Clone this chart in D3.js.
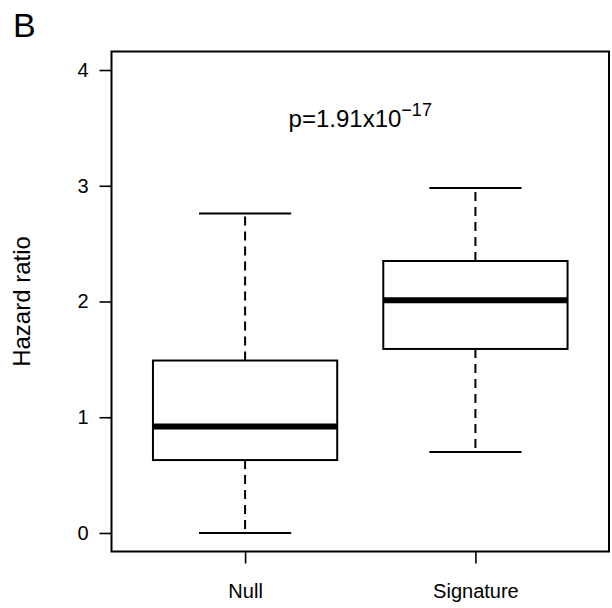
<!DOCTYPE html>
<html>
<head>
<meta charset="utf-8">
<script src="https://cdn.jsdelivr.net/npm/d3@7"></script>
<style>
  html, body { margin: 0; padding: 0; background: #fff; }
  svg { display: block; }
  text { font-family: "Liberation Sans", Arial, sans-serif; fill: #000; }
</style>
</head>
<body>
<svg id="chart" width="612" height="608"></svg>
<script>
// Box-plot summary per group
const categories = ["Null", "Signature"];
const whiskerLow = [0.00, 0.70];
const q1 = [0.63, 1.59];
const median = [0.92, 2.01];
const q3 = [1.49, 2.35];
const whiskerHigh = [2.76, 2.98];
const yTicks = [0, 1, 2, 3, 4];
const panelLabel = "B";
const yLabel = "Hazard ratio";
const pMantissa = "p=1.91x10";
const pExponent = "\u221217";

const svg = d3.select("#chart");

const plot = { left: 111.5, right: 609, top: 51.5, bottom: 551.5 };

// group positions 1..n, padded like base-R boxplot
const x = d3.scaleLinear().domain([0.42, categories.length + 0.58]).range([plot.left, plot.right]);
const y = d3.scaleLinear().domain([-0.16, 4.16]).range([plot.bottom, plot.top]);

const boxHalf = 0.4, capHalf = 0.2;

// y axis
const yAxis = d3.axisLeft(y).tickValues(yTicks).tickSize(12).tickPadding(11).tickFormat(d3.format("d"));
const gy = svg.append("g").attr("transform", `translate(${plot.left},0)`).call(yAxis);
gy.select(".domain").remove();
gy.selectAll(".tick line").attr("stroke", "#000").attr("stroke-width", 1.6);
gy.selectAll(".tick text").attr("font-size", 20).attr("fill", "#000");

// x axis
const xAxis = d3.axisBottom(x).tickValues(categories.map((c, i) => i + 1))
  .tickSize(12).tickPadding(20).tickFormat((d) => categories[d - 1]);
const gx = svg.append("g").attr("transform", `translate(0,${plot.bottom})`).call(xAxis);
gx.select(".domain").remove();
gx.selectAll(".tick line").attr("stroke", "#000").attr("stroke-width", 1.6);
gx.selectAll(".tick text").attr("font-size", 20).attr("fill", "#000");

// boxes
const groups = svg.append("g").selectAll("g").data(categories).join("g");

groups.append("line")
  .attr("x1", (d, i) => x(i + 1)).attr("x2", (d, i) => x(i + 1))
  .attr("y1", (d, i) => y(q3[i])).attr("y2", (d, i) => y(whiskerHigh[i]))
  .attr("stroke", "#000").attr("stroke-width", 2).attr("stroke-dasharray", "9,6");
groups.append("line")
  .attr("x1", (d, i) => x(i + 1)).attr("x2", (d, i) => x(i + 1))
  .attr("y1", (d, i) => y(q1[i])).attr("y2", (d, i) => y(whiskerLow[i]))
  .attr("stroke", "#000").attr("stroke-width", 2).attr("stroke-dasharray", "9,6");

for (const arr of [whiskerHigh, whiskerLow]) {
  groups.append("line")
    .attr("x1", (d, i) => x(i + 1 - capHalf)).attr("x2", (d, i) => x(i + 1 + capHalf))
    .attr("y1", (d, i) => y(arr[i])).attr("y2", (d, i) => y(arr[i]))
    .attr("stroke", "#000").attr("stroke-width", 2);
}

groups.append("rect")
  .attr("x", (d, i) => x(i + 1 - boxHalf))
  .attr("width", (d, i) => x(i + 1 + boxHalf) - x(i + 1 - boxHalf))
  .attr("y", (d, i) => y(q3[i]))
  .attr("height", (d, i) => y(q1[i]) - y(q3[i]))
  .attr("fill", "#fff").attr("stroke", "#000").attr("stroke-width", 2);

groups.append("line")
  .attr("x1", (d, i) => x(i + 1 - boxHalf)).attr("x2", (d, i) => x(i + 1 + boxHalf))
  .attr("y1", (d, i) => y(median[i])).attr("y2", (d, i) => y(median[i]))
  .attr("stroke", "#000").attr("stroke-width", 6);

// frame
svg.append("rect")
  .attr("x", plot.left).attr("y", plot.top)
  .attr("width", plot.right - plot.left).attr("height", plot.bottom - plot.top)
  .attr("fill", "none").attr("stroke", "#000").attr("stroke-width", 2);

// y label
svg.append("text")
  .attr("transform", `translate(30,${(plot.top + plot.bottom) / 2}) rotate(-90)`)
  .attr("text-anchor", "middle").attr("font-size", 24).text(yLabel);

// panel letter
svg.append("text").attr("x", 13).attr("y", 37).attr("font-size", 34).text(panelLabel);

// p-value annotation
const pText = svg.append("text")
  .attr("x", (plot.left + plot.right) / 2).attr("y", 127)
  .attr("text-anchor", "middle").attr("font-size", 24);
pText.append("tspan").text(pMantissa);
pText.append("tspan").attr("font-size", 18).attr("dy", -11).text(pExponent);
</script>
</body>
</html>
